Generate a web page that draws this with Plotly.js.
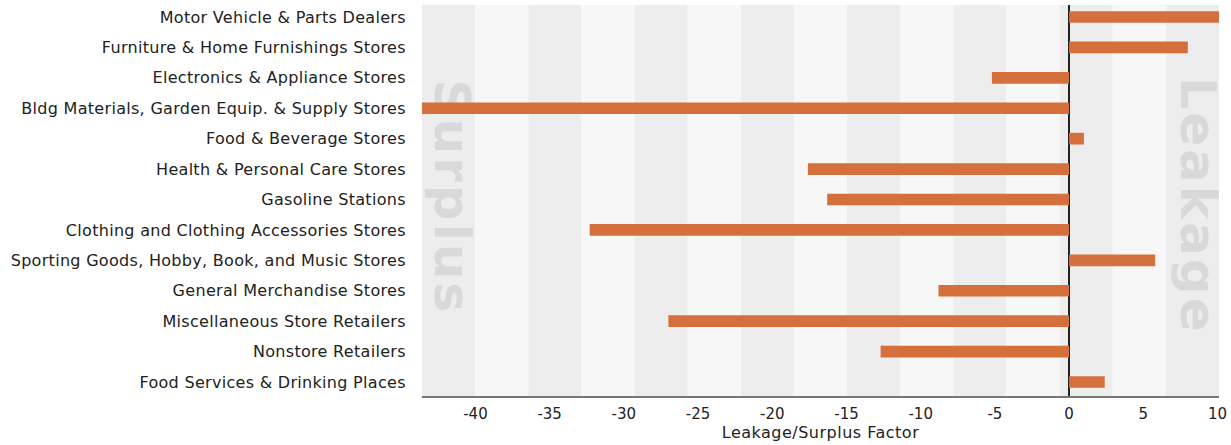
<!DOCTYPE html>
<html>
<head>
<meta charset="utf-8">
<script src="https://cdn.plot.ly/plotly-3.0.1.min.js"></script>
<style>
html,body{margin:0;padding:0;background:#fff;}
#chart{width:1231px;height:445px;}
#chart .ytick text{letter-spacing:0.3px;}
#chart .g-xtitle text{letter-spacing:0.5px;}
#chart .shapelayer text{letter-spacing:3px;}
</style>
</head>
<body>
<div id="chart"></div>
<script>
const categories = [
  "Motor Vehicle & Parts Dealers",
  "Furniture & Home Furnishings Stores",
  "Electronics & Appliance Stores",
  "Bldg Materials, Garden Equip. & Supply Stores",
  "Food & Beverage Stores",
  "Health & Personal Care Stores",
  "Gasoline Stations",
  "Clothing and Clothing Accessories Stores",
  "Sporting Goods, Hobby, Book, and Music Stores",
  "General Merchandise Stores",
  "Miscellaneous Store Retailers",
  "Nonstore Retailers",
  "Food Services & Drinking Places"
];
const factorValues = [10.1, 8.0, -5.2, -45.0, 1.0, -17.6, -16.3, -32.3, 5.8, -8.8, -27.0, -12.7, 2.4];
const xTickValues = [-40, -35, -30, -25, -20, -15, -10, -5, 0, 5, 10];
const xTickLabels = ["-40", "-35", "-30", "-25", "-20", "-15", "-10", "-5", "0", "5", "10"];
const watermarkLabels = ["Surplus", "Leakage"];

const FONT = "DejaVu Sans, Verdana, sans-serif";

const shapes = [];
const nBands = 15;
for (let i = 0; i < nBands; i++) {
  shapes.push({
    type: 'rect', xref: 'paper', yref: 'paper', layer: 'below',
    x0: i / nBands, x1: (i + 1) / nBands, y0: 0, y1: 1,
    fillcolor: i % 2 === 0 ? '#ededed' : '#f7f7f7',
    line: {width: 0}
  });
}
const wmCenters = [[0.043, 0.508], [0.979, 0.486]];
watermarkLabels.forEach((t, i) => {
  const [cx, cy] = wmCenters[i];
  shapes.push({
    type: 'rect', xref: 'paper', yref: 'paper', layer: 'below',
    x0: cx - 0.02, x1: cx + 0.02, y0: cy - 0.3, y1: cy + 0.3,
    fillcolor: 'rgba(0,0,0,0)', line: {width: 0},
    label: {
      text: '<b>' + t + '</b>', textangle: 90, textposition: 'middle center',
      font: {family: FONT, size: 50, color: '#d9d9d9'}
    }
  });
});

const trace = {
  type: 'bar', orientation: 'h',
  x: factorValues, y: categories,
  marker: {color: '#d5703c', line: {width: 0}},
  hoverinfo: 'x+y'
};

const layout = {
  width: 1231, height: 445,
  margin: {l: 422, r: 12, t: 5, b: 49},
  paper_bgcolor: '#ffffff', plot_bgcolor: 'rgba(0,0,0,0)',
  bargap: 0.615,
  showlegend: false,
  font: {family: FONT, size: 16, color: '#222'},
  xaxis: {
    range: [-43.6, 10.1], fixedrange: true,
    tickvals: xTickValues, ticktext: xTickLabels,
    showgrid: false,
    zeroline: true, zerolinecolor: '#222', zerolinewidth: 2,
    showline: true, linecolor: '#777', linewidth: 2,
    ticks: 'outside', ticklen: 3, tickcolor: 'rgba(0,0,0,0)',
    tickfont: {family: FONT, size: 15, color: '#222'},
    title: {text: 'Leakage/Surplus Factor', font: {family: FONT, size: 16, color: '#222'}, standoff: 4}
  },
  yaxis: {
    range: [12.46, -0.394], fixedrange: true,
    showgrid: false, showline: false, zeroline: false,
    ticks: 'outside', ticklen: 12, tickcolor: 'rgba(0,0,0,0)',
    tickfont: {family: FONT, size: 16, color: '#222'}
  },
  shapes: shapes
};

Plotly.newPlot('chart', [trace], layout, {displayModeBar: false, staticPlot: true});
</script>
</body>
</html>
